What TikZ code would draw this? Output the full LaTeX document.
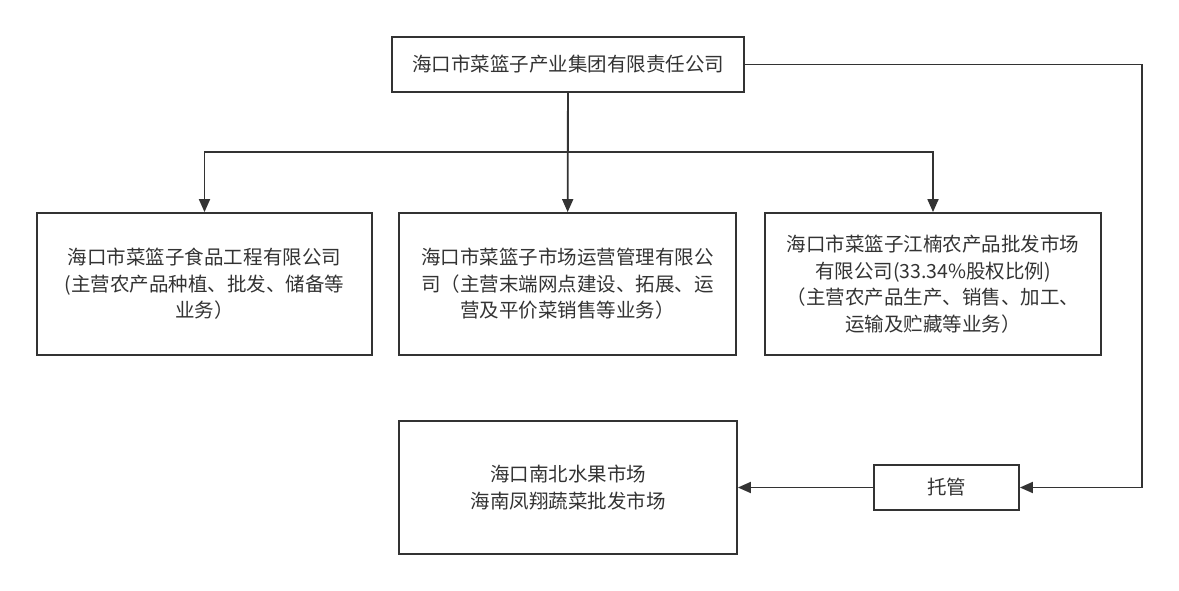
\documentclass[tikz,border=0pt]{standalone}
\usepackage{fontspec}
\setmainfont{Noto Sans CJK SC}
\usetikzlibrary{arrows.meta}
\definecolor{ink}{HTML}{333333}
\begin{document}
\begin{tikzpicture}[x=1bp,y=-1bp,
    box/.style={draw=ink,line width=1.8bp,text=ink,align=center,inner sep=0pt,
        font=\fontsize{19.5bp}{26.5bp}\selectfont},
    arr/.style={draw=ink,line width=1.8bp,-{Triangle[length=13bp,width=11bp]}}]
    \useasboundingbox (0,0) rectangle (1179,591);

    \node[box,minimum width=352bp,minimum height=55bp] (group) at (568,64.5) {海口市菜篮子产业集团有限责任公司};

    \node[box,minimum width=335bp,minimum height=142bp] (food) at (204.5,284)
        {海口市菜篮子食品工程有限公司\\(主营农产品种植、批发、储备等\\业务）};
    \node[box,minimum width=337bp,minimum height=142bp] (market) at (567.5,284)
        {海口市菜篮子市场运营管理有限公\\司（主营末端网点建设、拓展、运\\营及平价菜销售等业务）};
    \node[box,minimum width=336bp,minimum height=142bp] (jiangnan) at (933,284)
        {海口市菜篮子江楠农产品批发市场\\有限公司(33.34\%股权比例)\\（主营农产品生产、销售、加工、\\运输及贮藏等业务）};

    \node[box,minimum width=145bp,minimum height=45bp] (tuoguan) at (946.5,487.5) {托管};
    \node[box,minimum width=338bp,minimum height=133bp] (fruit) at (568,487.5)
        {海口南北水果市场\\海南凤翔蔬菜批发市场};

    \coordinate (bend) at (1142,64.5);

    \draw[arr] (group) -- (market);
    \draw[arr] (group.south) -- ++(0,59) -| (food.north);
    \draw[arr] (group.south) -- ++(0,59) -| (jiangnan.north);

    \draw[arr] (group.east) -- (bend) |- (tuoguan.east);
    \draw[arr] (tuoguan) -- (fruit);
\end{tikzpicture}
\end{document}
